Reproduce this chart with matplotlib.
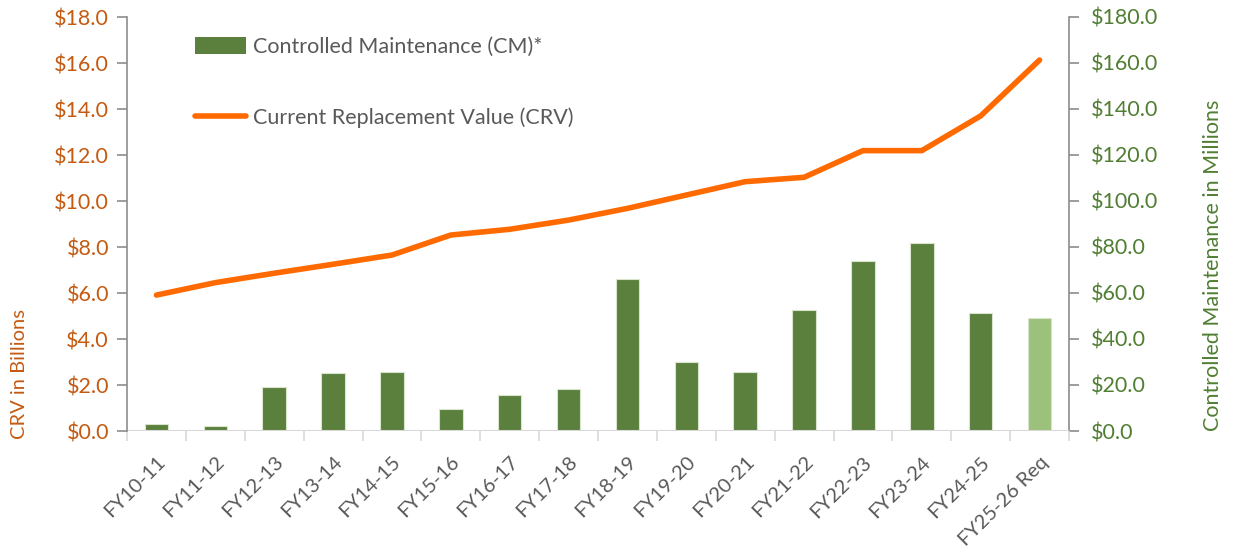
import matplotlib
matplotlib.use("Agg")
import matplotlib.pyplot as plt
import numpy as np
from matplotlib.patches import Patch
from matplotlib.lines import Line2D
from matplotlib.ticker import FuncFormatter, MultipleLocator, FixedLocator

categories = ["FY10-11", "FY11-12", "FY12-13", "FY13-14", "FY14-15", "FY15-16", "FY16-17",
              "FY17-18", "FY18-19", "FY19-20", "FY20-21", "FY21-22", "FY22-23", "FY23-24",
              "FY24-25", "FY25-26 Req"]
cm_millions = [2.9, 2.0, 19.1, 25.1, 25.7, 9.7, 15.8, 18.1, 66.1, 30.2, 25.7, 52.8, 73.7, 81.9, 51.2, 49.0]
crv_billions = [5.91, 6.45, 6.86, 7.25, 7.65, 8.52, 8.77, 9.17, 9.68, 10.26, 10.84, 11.03, 12.19, 12.19, 13.70, 16.13]

FONT = ["Lato", "DejaVu Sans"]
plt.rcParams["font.family"] = FONT

ORANGE_TXT = "#C55A11"
GREEN_TXT = "#507E32"
BAR = "#5B803E"
BAR_LIGHT = "#9CC17A"
LINE = "#FF6A00"
GREY_TXT = "#595959"

fig = plt.figure(figsize=(12.33, 5.54), dpi=100)
ax = fig.add_axes([127/1233, (554-431)/554, (1069-127)/1233, (431-17)/554])
ax2 = ax.twinx()

x = np.arange(len(categories))
colors = [BAR] * (len(categories) - 1) + [BAR_LIGHT]
ax2.bar(x, cm_millions, width=0.4, color=colors, edgecolor="#D8E4CC", linewidth=0.8, zorder=2)
ax.plot(x, crv_billions, color=LINE, linewidth=4, solid_capstyle="round", zorder=3)

ax.set_zorder(ax2.get_zorder() + 1)
ax.patch.set_visible(False)

ax.set_xlim(-0.5, len(categories) - 0.5)
ax.set_ylim(0, 18)
ax2.set_ylim(0, 180)
ax.yaxis.set_major_locator(MultipleLocator(2))
ax2.yaxis.set_major_locator(MultipleLocator(20))
ax.yaxis.set_major_formatter(FuncFormatter(lambda v, p: f"${v:.1f}"))
ax2.yaxis.set_major_formatter(FuncFormatter(lambda v, p: f"${v:.1f}"))

ax.set_xticks(x)
ax.set_xticklabels(categories, rotation=45, ha="right", rotation_mode="anchor",
                   fontsize=14.5, color=GREY_TXT)
ax.xaxis.set_minor_locator(FixedLocator(np.arange(-0.5, len(categories), 1)))
ax.tick_params(axis="x", which="major", length=0, pad=16)
ax.tick_params(axis="x", which="minor", length=7, color="#D9D9D9", width=1.2)

ax.tick_params(axis="y", length=7, color="#8C8C8C", width=1.2, labelsize=15.5,
               labelcolor=ORANGE_TXT, pad=6)
ax2.tick_params(axis="y", length=7, color="#8C8C8C", width=1.2, labelsize=15.5,
                labelcolor=GREEN_TXT, pad=9)

for a in (ax, ax2):
    a.spines["top"].set_visible(False)
    a.spines["bottom"].set_visible(False)
ax.spines["left"].set_color("#8C8C8C")
ax.spines["left"].set_linewidth(1.2)
ax.spines["right"].set_visible(False)
ax2.spines["left"].set_visible(False)
ax2.spines["right"].set_color("#8C8C8C")
ax2.spines["right"].set_linewidth(1.2)
ax.axhline(0, color="#D9D9D9", linewidth=1.5, zorder=1)

fig.text(20/1233, 1 - 374/554, "CRV in Billions", rotation=90, ha="center", va="center",
         fontsize=14.5, color=ORANGE_TXT)
fig.text(1213/1233, 1 - 265/554, "Controlled Maintenance in Millions", rotation=90,
         ha="center", va="center", fontsize=15.5, color=GREEN_TXT)

handles = [Patch(facecolor=BAR, edgecolor="none"),
           Line2D([0], [0], color=LINE, linewidth=4, solid_capstyle="round")]
labels = ["Controlled Maintenance (CM)*", "Current Replacement Value (CRV)"]
leg = ax.legend(handles, labels, loc="upper left", bbox_to_anchor=(184/1233, 1 - 26/554),
                bbox_transform=fig.transFigure, frameon=False, fontsize=15.5,
                labelspacing=2.35, handlelength=2.4, handleheight=0.8, handletextpad=0.3,
                borderpad=0)
for t in leg.get_texts():
    t.set_color(GREY_TXT)

fig.savefig("out.png", dpi=100)
